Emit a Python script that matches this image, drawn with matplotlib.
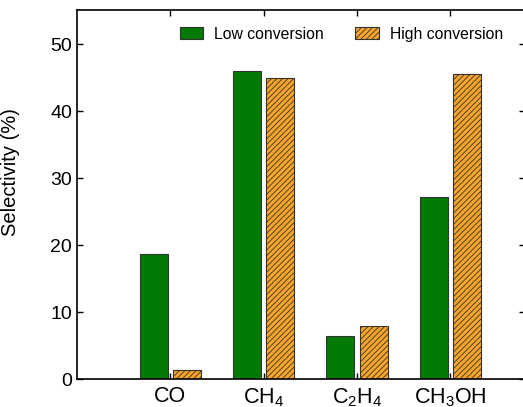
import numpy as np
import matplotlib
matplotlib.use('Agg')
import matplotlib.pyplot as plt

plt.rcParams['font.family'] = ['Liberation Sans', 'DejaVu Sans']
plt.rcParams['mathtext.fontset'] = 'custom'
plt.rcParams['mathtext.rm'] = 'Liberation Sans'
plt.rcParams['hatch.linewidth'] = 0.6
plt.rcParams['hatch.color'] = '#3a2a10'

categories = ['CO', r'CH$_4$', r'C$_2$H$_4$', r'CH$_3$OH']
low_conv = [18.6, 46.0, 6.4, 27.2]
high_conv = [1.3, 45.0, 7.9, 45.5]

fig = plt.figure(figsize=(5.23, 4.07), dpi=100)
ax = fig.add_axes([77 / 523, 28 / 407, 448 / 523, 369 / 407])

x = np.arange(1, len(categories) + 1)
w = 0.3
off = 0.18
ax.bar(x - off, low_conv, w, color='#037a03', edgecolor='#333333', linewidth=0.8,
       label='Low conversion')
ax.bar(x + off, high_conv, w, color='#fba52a', edgecolor='#333333', linewidth=0.8,
       hatch='//////', label='High conversion')

ax.set_xlim(0, 4.8)
ax.set_ylim(0, 55.1)
ax.set_xticks(x)
ax.set_xticklabels(categories, fontsize=15.5)
ax.set_yticks([0, 10, 20, 30, 40, 50])
ax.tick_params(axis='y', labelsize=14)
ax.tick_params(direction='in', top=True, right=True, length=4, width=1)
ax.tick_params(axis='x', pad=5)
ax.set_ylabel('Selectivity (%)', fontsize=14.5)
ax.yaxis.set_label_coords(-0.128, 0.56)
for s in ax.spines.values():
    s.set_linewidth(1.2)

ax.legend(loc='upper left', bbox_to_anchor=(0.215, 0.972), ncol=2, frameon=False,
          fontsize=11.3, handlelength=1.5, handleheight=0.8, handletextpad=0.7,
          columnspacing=2.0, borderaxespad=0)

fig.savefig('out.png', dpi=100)
